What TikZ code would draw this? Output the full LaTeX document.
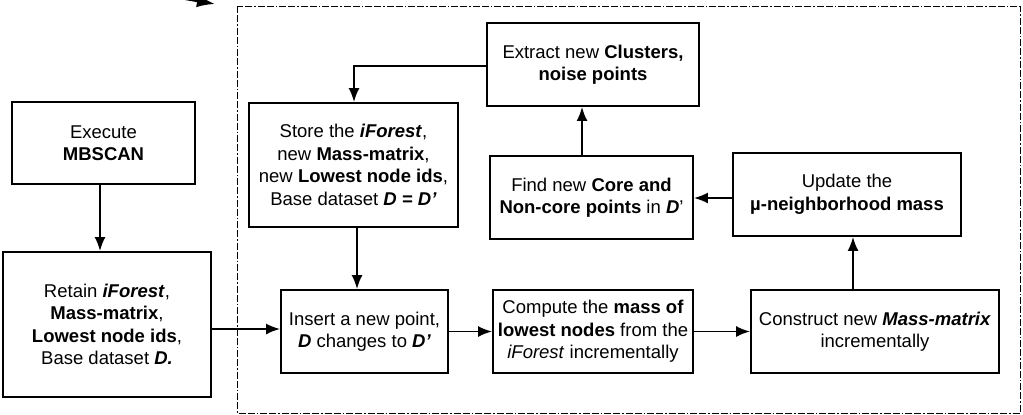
\documentclass[tikz,border=0pt]{standalone}
\usepackage{fontspec}
\setmainfont{Liberation Sans}
\usetikzlibrary{arrows.meta}
\newcommand{\drawarrow}{\draw[line width=1.8pt,-{Latex[length=14pt,width=11pt]}]}
\newcommand{\bi}[1]{\textbf{\textit{#1}}}

\begin{document}
\begin{tikzpicture}[x=1pt,y=-1pt,
    stepbox/.style={draw,line width=1.9pt,align=center,inner sep=0pt,
      font=\fontsize{18.5}{22.5}\selectfont}]
\useasboundingbox (0,0) rectangle (1023,415);
% incremental part
\draw[line width=1pt,dash pattern=on 7pt off 2pt on 7pt off 2pt on 1.5pt off 2pt] (237,6) rectangle (1020,413);
% boxes
\node[stepbox,minimum width=183pt,minimum height=82pt] (execute) at (103.5,143) {Execute\\\textbf{MBSCAN}};
\node[stepbox,minimum width=208pt,minimum height=145pt] (retain) at (107,324.5) {Retain \bi{iForest},\\\textbf{Mass-matrix},\\\textbf{Lowest node ids},\\Base dataset \bi{D.}};
\node[stepbox,minimum width=209pt,minimum height=124pt] (store) at (353.5,165) {Store the \bi{iForest},\\new \textbf{Mass-matrix},\\new \textbf{Lowest node ids},\\Base dataset \bi{D = D'}};
\node[stepbox,minimum width=212pt,minimum height=83pt] (extract) at (593,64.5) {Extract new \textbf{Clusters,}\\\textbf{noise points}};
\node[stepbox,minimum width=203pt,minimum height=83pt] (find) at (591.5,197.5) {Find new \textbf{Core and}\\\textbf{Non-core points} in \bi{D}'};
\node[stepbox,minimum width=228pt,minimum height=83pt] (update) at (847,194.5) {Update the\\\textbf{µ-neighborhood mass}};
\node[stepbox,minimum width=167pt,minimum height=83pt] (insert) at (364.5,331.5) {Insert a new point,\\\bi{D} changes to \bi{D'}};
\node[stepbox,minimum width=200pt,minimum height=83pt] (compute) at (593,331.5) {Compute the \textbf{mass of}\\\textbf{lowest nodes} from the\\\textit{iForest} incrementally};
\node[stepbox,minimum width=248pt,minimum height=83pt] (construct) at (875,331.5) {Construct new \bi{Mass-matrix}\\incrementally};
% arrows
\coordinate (stub) at (175,-3);
\coordinate (tip) at (215,4);
\draw[line width=2.5pt,-{Latex[length=18pt,width=13pt]}] (stub) -- (tip);
\drawarrow (execute.south -| 100,0) -- (retain.north -| 100,0);
\drawarrow (retain.east |- 0,329) -- (insert.west |- 0,329);
\drawarrow (store.south -| 357,0) -- (insert.north -| 357,0);
\drawarrow (insert) -- (compute);
\drawarrow (compute) -- (construct);
\drawarrow (construct.north -| 853,0) -- (update.south -| 853,0);
\drawarrow (update.west |- 0,198) -- (find.east |- 0,198);
\drawarrow (find.north -| 582,0) -- (extract.south -| 582,0);
\drawarrow (extract.west |- 0,66) -| (store.north -| 354,0);
\end{tikzpicture}
\end{document}
